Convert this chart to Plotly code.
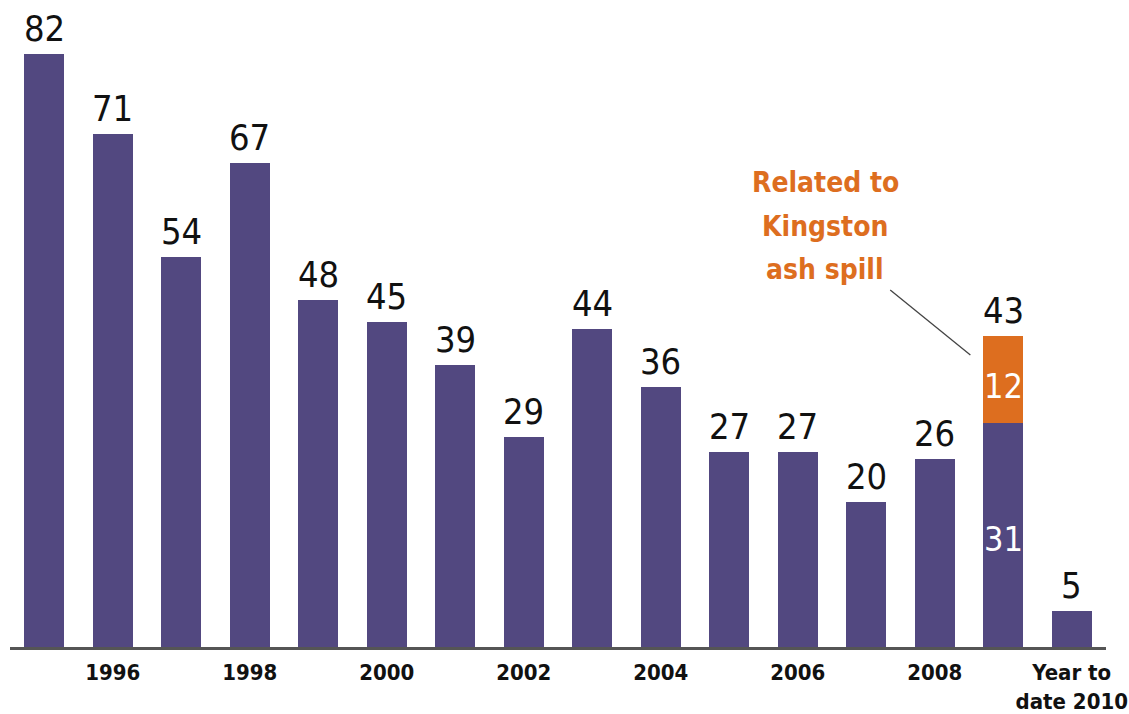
import plotly.graph_objects as go

categories = [str(y) for y in range(1995, 2010)] + ["Year to date 2010"]
base_values = [82, 71, 54, 67, 48, 45, 39, 29, 44, 36, 27, 27, 20, 26, 31, 5]
ash_values = [0, 0, 0, 0, 0, 0, 0, 0, 0, 0, 0, 0, 0, 0, 12, 0]
totals = [b + a for b, a in zip(base_values, ash_values)]
tick_vals = ["1996", "1998", "2000", "2002", "2004", "2006", "2008", "Year to date 2010"]
tick_text = ["1996", "1998", "2000", "2002", "2004", "2006", "2008", "Year to<br>date 2010"]
callout_lines = ["Related to", "Kingston", "ash spill"]

PURPLE = "#524880"
ORANGE = "#DD6E1F"
FONT = "DejaVu Sans Condensed, Roboto, sans-serif"

fig = go.Figure()
fig.add_bar(x=categories, y=base_values, marker=dict(color=PURPLE, line=dict(width=0)),
            hoverinfo="skip")
fig.add_bar(x=categories, y=ash_values, marker=dict(color=ORANGE, line=dict(width=0)),
            hoverinfo="skip")

for i, t in enumerate(totals):
    fig.add_annotation(x=i, y=t, text=str(t), showarrow=False, yanchor="bottom",
                       yshift=3, font=dict(family=FONT, size=36, color="#111111"))

idx = ash_values.index(12)
fig.add_annotation(x=idx, y=base_values[idx] * 0.48, text=str(base_values[idx]),
                   showarrow=False, font=dict(family=FONT, size=34, color="white"))
fig.add_annotation(x=idx, y=base_values[idx] + ash_values[idx] * 0.43,
                   text=str(ash_values[idx]), showarrow=False,
                   font=dict(family=FONT, size=34, color="white"))

for j, line in enumerate(callout_lines):
    fig.add_annotation(x=11.4, y=64.2 - j * 6.0, text=line, showarrow=False,
                       xanchor="center", yanchor="middle",
                       font=dict(family=FONT, size=28, color=ORANGE, weight="bold"))
fig.add_shape(type="line", xref="x", yref="y",
              x0=12.35, y0=49.4, x1=13.52, y1=40.4,
              line=dict(color="#444444", width=1.3))

fig.update_layout(
    barmode="stack",
    bargap=0.416,
    showlegend=False,
    width=1129, height=714,
    margin=dict(l=10, r=23, t=0, b=67),
    paper_bgcolor="white", plot_bgcolor="white",
    xaxis=dict(type="category", categoryorder="array", categoryarray=categories,
               range=[-0.5, 15.5],
               tickmode="array", tickvals=tick_vals, ticktext=tick_text,
               showline=True, linecolor="#555555", linewidth=2.5,
               ticks="", showgrid=False, tickangle=0, ticklabelstandoff=4,
               tickfont=dict(family=FONT, size=22, color="#111111", weight="bold")),
    yaxis=dict(range=[0, 89.5], visible=False, showgrid=False, zeroline=False),
)

fig.write_html("out.html", config={"displayModeBar": False},
               post_script="document.body.style.margin='0';")
